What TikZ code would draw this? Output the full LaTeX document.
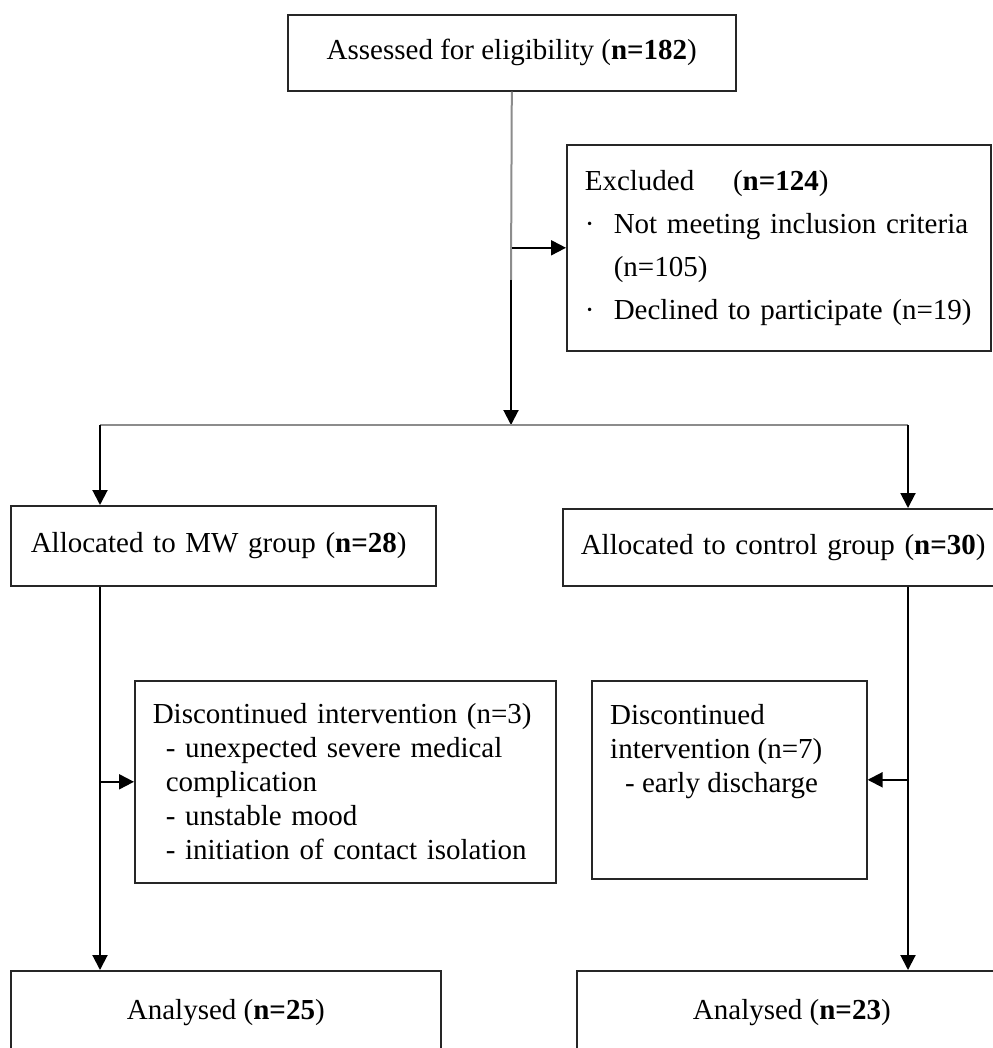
\documentclass[tikz,border=0pt]{standalone}
\usepackage{fontspec}
\setmainfont{Liberation Serif}
\usetikzlibrary{positioning,arrows.meta}

\begin{document}
\begin{tikzpicture}[x=1pt, y=-1pt,
  flowbox/.style={draw=black!85, line width=1.6pt, anchor=north west,
    font=\fontsize{29}{34}\selectfont, inner xsep=18pt, inner ysep=0pt},
  arr/.style={line width=2pt, -{Triangle[length=15pt,width=15pt]}},
  grayline/.style={line width=2pt, draw=black!45}]

  % Flow of participants through the study

  \useasboundingbox (0,0) rectangle (992,1048);

  \node [flowbox, minimum width=448, minimum height=76, align=center] (assess) at (287,14)
    {Assessed for eligibility (\textbf{n=182})};

  \node [flowbox, minimum width=424, minimum height=206, text width=388pt, align=left,
    font=\fontsize{29}{43}\selectfont] (excl) at (566,144)
    {Excluded\quad\ (\textbf{n=124})\\
     ·\ \ Not meeting inclusion criteria\\
     \hspace*{29pt}(n=105)\\
     ·\ \ Declined to participate (n=19)};

  \node [flowbox, minimum width=423, minimum height=80, text width=385pt, align=left,
    inner xsep=20pt] (mw) at (10,505)
    {Allocated to MW group (\textbf{n=28})};
  \node [flowbox, minimum width=470, minimum height=77, text width=434pt, align=left] (ctrl) at (562,508)
    {Allocated to control group (\textbf{n=30})};

  \node [flowbox, minimum width=421, minimum height=202, text width=385pt, align=left] (mwdisc) at (134,680)
    {Discontinued intervention (n=3)\\
     \hspace*{13pt}- unexpected severe medical\\
     \hspace*{13pt}complication\\
     \hspace*{13pt}- unstable mood\\
     \hspace*{13pt}- initiation of contact isolation};
  \node [flowbox, minimum width=275, minimum height=198] (ctrldisc) at (591,680) {};
  \node [font=\fontsize{29}{34}\selectfont, align=left, inner sep=0pt, anchor=north west]
    (ctrldisctxt) at ([xshift=19pt,yshift=-24pt]ctrldisc.north west)
    {Discontinued\\
     intervention (n=7)\\
     \hspace*{15pt}- early discharge};

  \node [flowbox, minimum width=430, minimum height=84, align=center] (anl) at (10,970)
    {Analysed (\textbf{n=25})};
  \node [flowbox, minimum width=430, minimum height=84, align=center] (anr) at (576,970)
    {Analysed (\textbf{n=23})};

  \coordinate (turn) at (511,280);
  \coordinate (split) at (511,425);
  \coordinate (lsplit) at (100,425);
  \coordinate (rsplit) at (908,425);

  \draw [grayline] (assess.south) -- (turn);
  \draw [arr] (turn) -- (split);
  \draw [arr] (assess.south |- excl.west) -- (excl.west);
  \draw [grayline] (lsplit) -- (rsplit);
  \draw [arr] (lsplit) -- (lsplit |- mw.north);
  \draw [arr] (rsplit) -- (rsplit |- ctrl.north);

  \draw [arr] (lsplit |- mw.south) -- (lsplit |- anl.north);
  \draw [arr] (lsplit |- mwdisc.west) -- (mwdisc.west);
  \draw [arr] (rsplit |- ctrl.south) -- (rsplit |- anr.north);
  \draw [arr] (rsplit |- ctrldisc.east) -- (ctrldisc.east);
\end{tikzpicture}
\end{document}
